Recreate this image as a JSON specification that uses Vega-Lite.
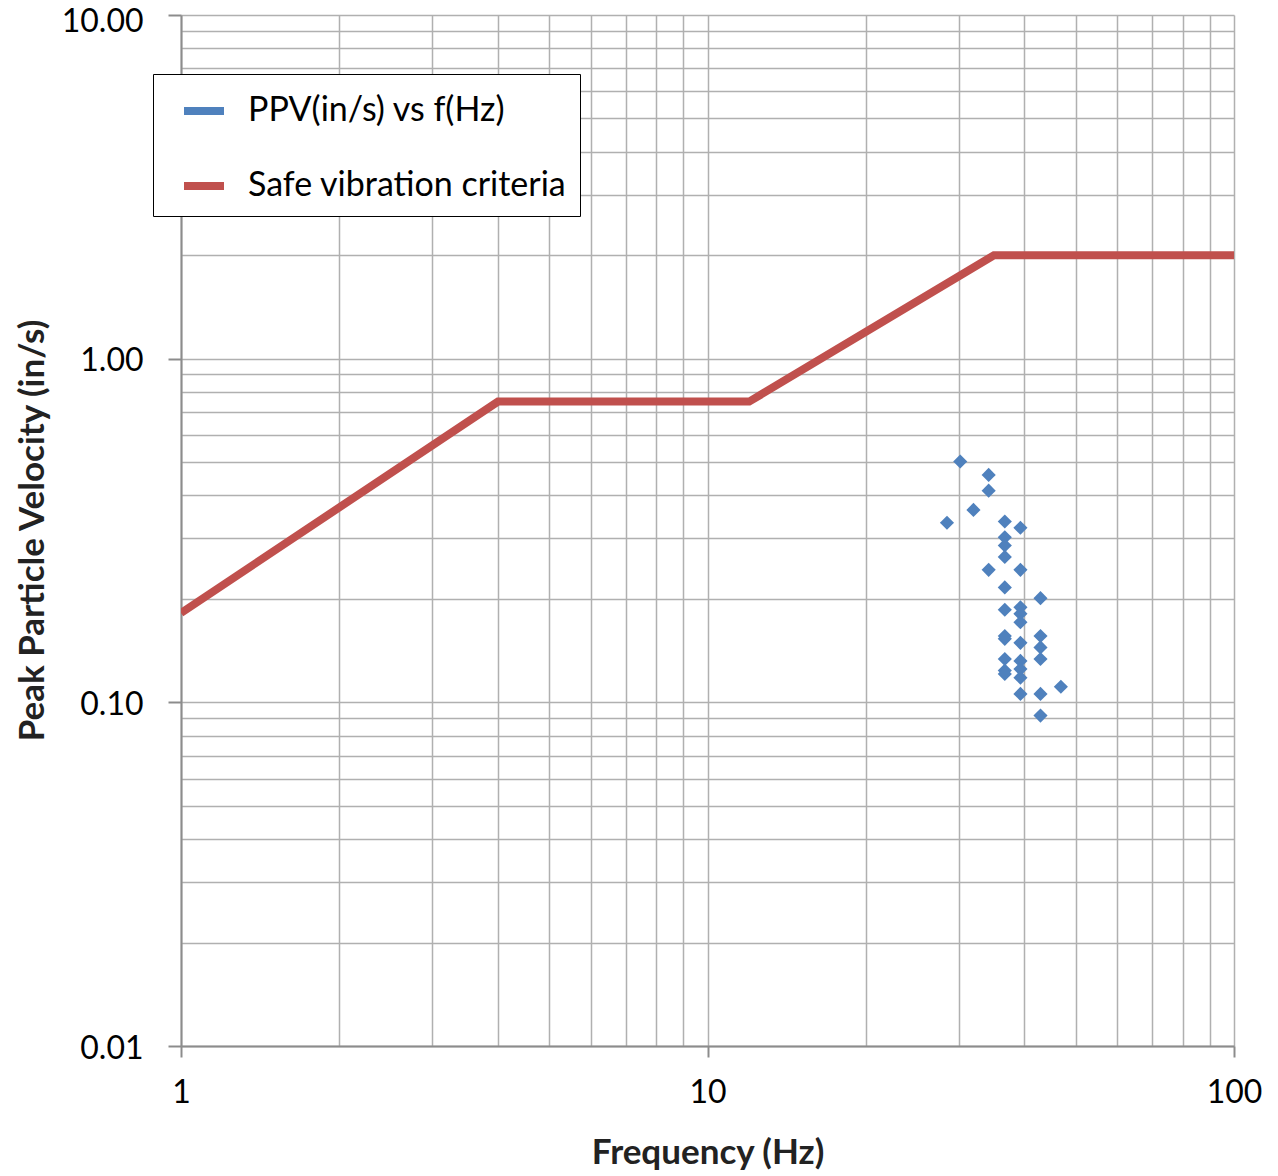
{
  "$schema": "https://vega.github.io/schema/vega-lite/v6.json",
  "width": 1053,
  "height": 1031,
  "autosize": {"type": "none"},
  "padding": {"left": 181, "top": 15, "right": 44, "bottom": 130},
  "background": "white",
  "config": {
    "view": {"stroke": null},
    "font": "Lato"
  },
  "layer": [
    {
      "data": {"values": [
        {"f": 1, "ppv": 0.182, "series": "Safe vibration criteria"},
        {"f": 4, "ppv": 0.75, "series": "Safe vibration criteria"},
        {"f": 12, "ppv": 0.75, "series": "Safe vibration criteria"},
        {"f": 35, "ppv": 2.0, "series": "Safe vibration criteria"},
        {"f": 100, "ppv": 2.0, "series": "Safe vibration criteria"}
      ]},
      "mark": {"type": "line", "strokeWidth": 8, "strokeJoin": "miter", "strokeCap": "butt", "clip": true},
      "encoding": {
        "x": {"field": "f", "type": "quantitative"},
        "y": {"field": "ppv", "type": "quantitative"},
        "color": {"field": "series", "type": "nominal"}
      }
    },
    {
      "data": {"values": [
        {"f": 30.2, "ppv": 0.502, "series": "PPV(in/s) vs f(Hz)"},
        {"f": 34.2, "ppv": 0.459, "series": "PPV(in/s) vs f(Hz)"},
        {"f": 34.2, "ppv": 0.413, "series": "PPV(in/s) vs f(Hz)"},
        {"f": 32.0, "ppv": 0.363, "series": "PPV(in/s) vs f(Hz)"},
        {"f": 28.5, "ppv": 0.333, "series": "PPV(in/s) vs f(Hz)"},
        {"f": 36.7, "ppv": 0.336, "series": "PPV(in/s) vs f(Hz)"},
        {"f": 39.3, "ppv": 0.322, "series": "PPV(in/s) vs f(Hz)"},
        {"f": 36.7, "ppv": 0.302, "series": "PPV(in/s) vs f(Hz)"},
        {"f": 36.7, "ppv": 0.286, "series": "PPV(in/s) vs f(Hz)"},
        {"f": 36.7, "ppv": 0.265, "series": "PPV(in/s) vs f(Hz)"},
        {"f": 34.2, "ppv": 0.243, "series": "PPV(in/s) vs f(Hz)"},
        {"f": 39.3, "ppv": 0.243, "series": "PPV(in/s) vs f(Hz)"},
        {"f": 36.7, "ppv": 0.216, "series": "PPV(in/s) vs f(Hz)"},
        {"f": 42.9, "ppv": 0.201, "series": "PPV(in/s) vs f(Hz)"},
        {"f": 36.7, "ppv": 0.186, "series": "PPV(in/s) vs f(Hz)"},
        {"f": 39.3, "ppv": 0.189, "series": "PPV(in/s) vs f(Hz)"},
        {"f": 39.3, "ppv": 0.181, "series": "PPV(in/s) vs f(Hz)"},
        {"f": 39.3, "ppv": 0.171, "series": "PPV(in/s) vs f(Hz)"},
        {"f": 36.7, "ppv": 0.156, "series": "PPV(in/s) vs f(Hz)"},
        {"f": 36.7, "ppv": 0.153, "series": "PPV(in/s) vs f(Hz)"},
        {"f": 39.3, "ppv": 0.149, "series": "PPV(in/s) vs f(Hz)"},
        {"f": 42.9, "ppv": 0.156, "series": "PPV(in/s) vs f(Hz)"},
        {"f": 42.9, "ppv": 0.1445, "series": "PPV(in/s) vs f(Hz)"},
        {"f": 42.9, "ppv": 0.1337, "series": "PPV(in/s) vs f(Hz)"},
        {"f": 36.7, "ppv": 0.1337, "series": "PPV(in/s) vs f(Hz)"},
        {"f": 39.3, "ppv": 0.132, "series": "PPV(in/s) vs f(Hz)"},
        {"f": 36.7, "ppv": 0.1237, "series": "PPV(in/s) vs f(Hz)"},
        {"f": 39.3, "ppv": 0.125, "series": "PPV(in/s) vs f(Hz)"},
        {"f": 39.3, "ppv": 0.118, "series": "PPV(in/s) vs f(Hz)"},
        {"f": 36.7, "ppv": 0.121, "series": "PPV(in/s) vs f(Hz)"},
        {"f": 39.3, "ppv": 0.1058, "series": "PPV(in/s) vs f(Hz)"},
        {"f": 42.9, "ppv": 0.1058, "series": "PPV(in/s) vs f(Hz)"},
        {"f": 46.9, "ppv": 0.111, "series": "PPV(in/s) vs f(Hz)"},
        {"f": 42.9, "ppv": 0.0915, "series": "PPV(in/s) vs f(Hz)"}
      ]},
      "mark": {"type": "point", "shape": "diamond", "filled": true, "size": 200, "opacity": 1},
      "encoding": {
        "x": {
          "field": "f", "type": "quantitative",
          "scale": {"type": "log", "domain": [1, 100], "nice": false},
          "axis": {
            "title": "Frequency (Hz)",
            "values": [1,2,3,4,5,6,7,8,9,10,20,30,40,50,60,70,80,90,100],
            "labelExpr": "indexof([1,10,100], datum.value) >= 0 ? format(datum.value, 'd') : ''",
            "labelOverlap": false,
            "labelFlush": false,
            "labelFontSize": 32,
            "labelColor": "#000000",
            "labelPadding": 20,
            "grid": true,
            "gridColor": "#b0b0b0",
            "gridWidth": 1.5,
            "domainColor": "#8c8c8c",
            "domainWidth": 2,
            "tickColor": "#8c8c8c",
            "tickWidth": 2,
            "tickSize": 11,
            "tickOpacity": {"condition": {"test": "indexof([1,10,100], datum.value) >= 0", "value": 1}, "value": 0},
            "titleFontSize": 35,
            "titleFontWeight": "bold",
            "titleColor": "#222222",
            "titleBaseline": "middle",
            "titleY": 106
          }
        },
        "y": {
          "field": "ppv", "type": "quantitative",
          "scale": {"type": "log", "domain": [0.01, 10], "nice": false},
          "axis": {
            "title": "Peak Particle Velocity (in/s)",
            "values": [0.01,0.02,0.03,0.04,0.05,0.06,0.07,0.08,0.09,0.1,0.2,0.3,0.4,0.5,0.6,0.7,0.8,0.9,1,2,3,4,5,6,7,8,9,10],
            "labelExpr": "indexof([0.01,0.1,1,10], datum.value) >= 0 ? format(datum.value, '.2f') : ''",
            "labelOverlap": false,
            "labelFlush": false,
            "labelFontSize": 32,
            "labelColor": "#000000",
            "labelPadding": 25,
            "labelOffset": {"condition": {"test": "datum.value === 10", "value": 6}, "value": 2},
            "grid": true,
            "gridColor": "#b0b0b0",
            "gridWidth": 1.5,
            "domainColor": "#8c8c8c",
            "domainWidth": 2,
            "tickColor": "#8c8c8c",
            "tickWidth": 2,
            "tickSize": 13,
            "tickOpacity": {"condition": {"test": "indexof([0.01,0.1,1,10], datum.value) >= 0", "value": 1}, "value": 0},
            "titleFontSize": 35,
            "titleFontWeight": "bold",
            "titleColor": "#222222",
            "titleAngle": -90,
            "titleBaseline": "middle",
            "titleX": -149,
            "titleY": 515
          }
        },
        "color": {
          "field": "series", "type": "nominal",
          "scale": {"domain": ["PPV(in/s) vs f(Hz)", "Safe vibration criteria"], "range": ["#4f81bd", "#c0504d"]},
          "legend": {
            "title": null,
            "orient": "none",
            "legendX": -28,
            "legendY": 59,
            "fillColor": "white",
            "strokeColor": "#000000",
            "padding": 13,
            "labelFontSize": 34,
            "labelColor": "#000000",
            "labelLimit": 600,
            "symbolSize": 1600,
            "symbolStrokeWidth": 8,
            "symbolOpacity": 1,
            "symbolOffset": 14,
            "labelOffset": 20,
            "rowPadding": 34
          }
        }
      }
    }
  ]
}
